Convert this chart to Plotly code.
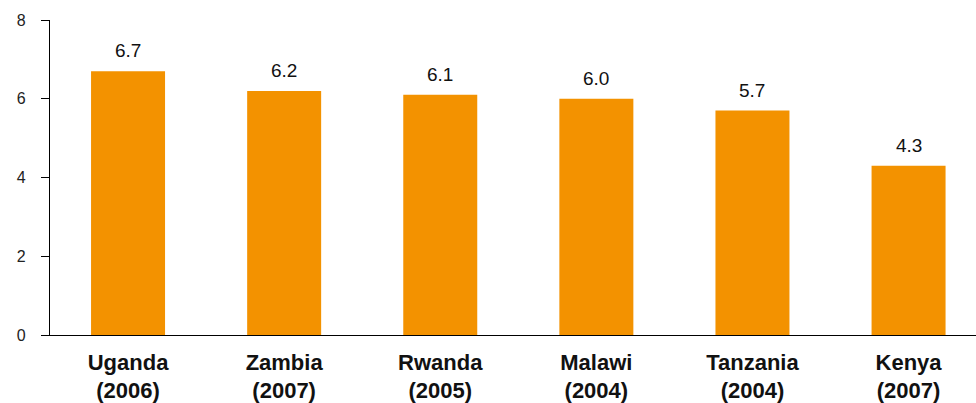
import plotly.graph_objects as go

# Countries (survey year) and their values
countries = ["Uganda", "Zambia", "Rwanda", "Malawi", "Tanzania", "Kenya"]
years = ["2006", "2007", "2005", "2004", "2004", "2007"]
values = [6.7, 6.2, 6.1, 6.0, 5.7, 4.3]
y_ticks = [0, 2, 4, 6, 8]

BAR_COLOR = "#F39200"
FONT = "Liberation Sans"

labels = [f"<b>{c}<br>({y})</b>" for c, y in zip(countries, years)]

fig = go.Figure(
    go.Bar(
        x=labels,
        y=values,
        marker=dict(color=BAR_COLOR, line=dict(width=0)),
        width=0.474,
        hoverinfo="skip",
    )
)

# value labels above each bar
for lab, v in zip(labels, values):
    fig.add_annotation(
        x=lab, y=v, text=f"{v:.1f}", showarrow=False,
        yanchor="bottom", yshift=8,
        font=dict(family=FONT, size=19, color="#111111"),
    )

fig.update_layout(
    width=976, height=403,
    margin=dict(l=50, r=0, t=20, b=66),
    paper_bgcolor="white", plot_bgcolor="white",
    showlegend=False,
    font=dict(family=FONT),
)

fig.update_xaxes(
    type="category",
    range=[-0.5, 5.432],
    showline=True, linecolor="black", linewidth=1.3,
    ticks="", showgrid=False, zeroline=False,
    tickfont=dict(family=FONT, size=22, color="#111111"),
    ticklabelstandoff=7,
)

fig.update_yaxes(
    range=[0, 8],
    tickvals=y_ticks,
    showline=True, linecolor="black", linewidth=1.3,
    ticks="outside", ticklen=8, tickwidth=1.3, tickcolor="black",
    showgrid=False, zeroline=False,
    tickfont=dict(family=FONT, size=16, color="#222222"),
    ticklabelstandoff=12,
)

fig.write_html("out.html")
